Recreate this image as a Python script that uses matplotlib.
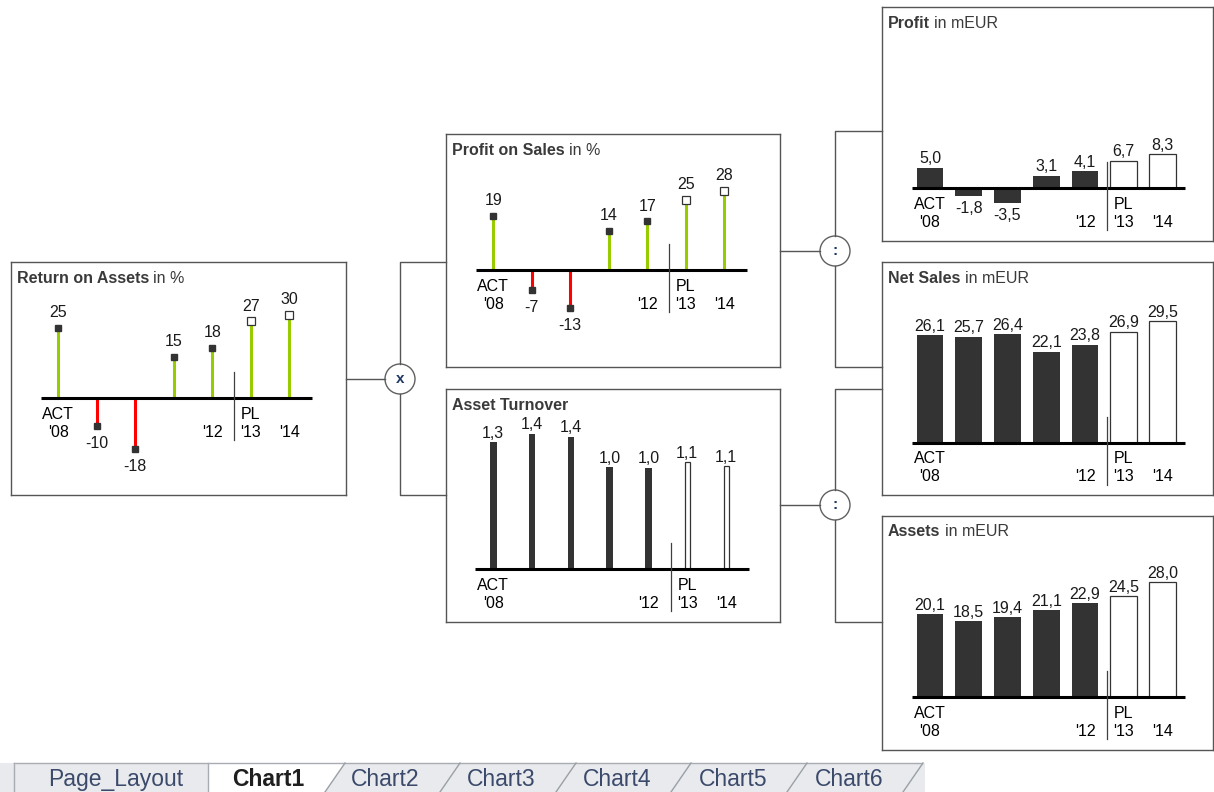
import numpy as np
import matplotlib
matplotlib.use("Agg")
import matplotlib.pyplot as plt
from matplotlib.patches import Circle, Polygon, Rectangle
from matplotlib import font_manager

plt.rcParams['font.family'] = ['Liberation Sans', 'DejaVu Sans']

# Daten
periods = ["'08", "'09", "'10", "'11", "'12", "'13", "'14"]
scenario = ["ACT"] * 5 + ["PL"] * 2
label_top = ["ACT", "", "", "", "", "PL", ""]
label_bottom = ["'08", "", "", "", "'12", "'13", "'14"]

profit = [5.0, -1.8, -3.5, 3.1, 4.1, 6.7, 8.3]
net_sales = [26.1, 25.7, 26.4, 22.1, 23.8, 26.9, 29.5]
assets = [20.1, 18.5, 19.4, 21.1, 22.9, 24.5, 28.0]
roa = [24.9, -9.7, -18.0, 14.7, 17.9, 27.3, 29.6]
pos = [19.2, -7.0, -13.3, 14.0, 17.2, 24.9, 28.1]
turnover = [1.30, 1.39, 1.36, 1.047, 1.04, 1.098, 1.054]

sheet_tabs = ["Page_Layout", "Chart1", "Chart2", "Chart3", "Chart4", "Chart5", "Chart6"]

# Farben
GREEN = "#99cc00"
RED = "#ff0000"
DARK = "#333333"
TITLE = "#3a3a3a"
LINE = "#555555"

W, H = 1214, 792
PX = 0.72  # Punkte pro Pixel bei dpi 100
FS = 11.5

fig = plt.figure(figsize=(W / 100, H / 100), dpi=100)
bg = fig.add_axes([0, 0, 1, 1])
bg.set_xlim(0, W)
bg.set_ylim(H, 0)
bg.axis("off")

x = np.arange(len(periods))
is_act = np.array([s == "ACT" for s in scenario])


def comma(v, nd=1):
    return f"{v:.{nd}f}".replace(".", ",")


def make_panel(box, base_y, x0, step, ppu, bold, rest):
    left, top, right, bottom = box
    ax = fig.add_axes([left / W, 1 - bottom / H, (right - left) / W, (bottom - top) / H])
    ax.set_facecolor("none")
    ax.set_xlim((left - x0) / step, (right - x0) / step)
    ax.set_ylim((base_y - bottom) / ppu, (base_y - top) / ppu)
    ax.set_xticks([])
    ax.set_yticks([])
    for sp in ax.spines.values():
        sp.set_color(LINE)
        sp.set_linewidth(1.0)
    t = ax.annotate(bold, xy=(0, 1), xycoords="axes fraction",
                    xytext=(6 * PX, -16 * PX), textcoords="offset points",
                    ha="left", va="center", fontsize=FS, fontweight="bold", color=TITLE)
    if rest:
        ax.annotate(rest, xy=(1, 0.5), xycoords=t, xytext=(3, 0), textcoords="offset points",
                    ha="left", va="center", fontsize=FS, color=TITLE)
    # Achse, Trennlinie ACT/PL, Beschriftung
    ax.plot([-0.46, 6.58], [0, 0], color="black", lw=2.2, solid_capstyle="butt", zorder=5)
    ax.plot([4.57, 4.57], [26 / ppu, -42 / ppu], color="#404040", lw=0.9, zorder=5)
    for i in x:
        ax.annotate(label_top[i], (i, 0), xytext=(0, -16 * PX), textcoords="offset points",
                    ha="center", va="center", fontsize=FS, color="black")
        ax.annotate(label_bottom[i], (i, 0), xytext=(0, -34 * PX), textcoords="offset points",
                    ha="center", va="center", fontsize=FS, color="black")
    return ax


def lollipops(ax, vals):
    v = np.array(vals)
    colors = [GREEN if val >= 0 else RED for val in v]
    ax.vlines(x, 0, v, colors=colors, lw=2.2, zorder=3)
    ax.plot(x[is_act], v[is_act], "s", ms=3.8, color=DARK, zorder=6)
    ax.plot(x[~is_act], v[~is_act], "s", ms=5.2, mfc="white", mec=DARK, mew=0.9, zorder=6)
    for xi, val in zip(x, v):
        if val >= 0:
            ax.annotate(f"{val:.0f}", (xi, val), xytext=(0, 5.5), textcoords="offset points",
                        ha="center", va="bottom", fontsize=FS, color="#1a1a1a")
        else:
            ax.annotate(f"{val:.0f}", (xi, val), xytext=(0, -7.5), textcoords="offset points",
                        ha="center", va="top", fontsize=FS, color="#1a1a1a")


def bars(ax, vals, width, pl_width):
    v = np.array(vals)
    ax.bar(x[is_act], v[is_act], width, color=DARK, zorder=3)
    ax.bar(x[~is_act], v[~is_act], pl_width, facecolor="white", edgecolor=DARK, lw=0.9, zorder=3)
    for xi, val in zip(x, v):
        if val >= 0:
            ax.annotate(comma(val), (xi, val), xytext=(0, 1), textcoords="offset points",
                        ha="center", va="bottom", fontsize=FS, color="#1a1a1a")
        else:
            ax.annotate(comma(val), (xi, val), xytext=(0, -4), textcoords="offset points",
                        ha="center", va="top", fontsize=FS, color="#1a1a1a")


# Panels
ax_roa = make_panel((11, 262, 346, 495), 398.3, 58.3, 38.5, 2.82, "Return on Assets", "in %")
lollipops(ax_roa, roa)

ax_pos = make_panel((446, 134, 780, 367), 270, 493.3, 38.5, 2.82, "Profit on Sales", "in %")
lollipops(ax_pos, pos)

ax_at = make_panel((446, 389, 780, 622), 569, 493.3, 38.8, 97.4, "Asset Turnover", "")
bars(ax_at, turnover, 0.17, 0.13)

ax_pr = make_panel((882, 7, 1213, 241), 188.3, 930, 38.75, 4.12, "Profit", "in mEUR")
bars(ax_pr, profit, 0.69, 0.69)

ax_ns = make_panel((882, 262, 1213, 495), 442.7, 930, 38.75, 4.12, "Net Sales", "in mEUR")
bars(ax_ns, net_sales, 0.69, 0.69)

ax_as = make_panel((882, 516, 1213, 750), 697.3, 930, 38.75, 4.12, "Assets", "in mEUR")
bars(ax_as, assets, 0.69, 0.69)

# Verbindungslinien
conn = dict(color=LINE, lw=1.0)
bg.plot([346, 385], [379, 379], **conn)
bg.plot([400, 400, 446], [364, 262, 262], **conn)
bg.plot([400, 400, 446], [394, 495, 495], **conn)
bg.plot([780, 820], [251, 251], **conn)
bg.plot([835, 835, 882], [236, 131, 131], **conn)
bg.plot([835, 835, 882], [266, 367, 367], **conn)
bg.plot([780, 820], [505, 505], **conn)
bg.plot([835, 835, 882], [490, 389, 389], **conn)
bg.plot([835, 835, 882], [520, 622, 622], **conn)

for cx, cy, sym in [(400, 379, "x"), (835, 251, ":"), (835, 505, ":")]:
    bg.add_patch(Circle((cx, cy), 15, facecolor="white", edgecolor="#606060", lw=1.0))
    bg.text(cx, cy, sym, ha="center", va="center", fontsize=11, fontweight="bold", color="#1f3864")

# Blattregister unten
names = {f.name for f in font_manager.fontManager.ttflist}
if "Liberation Sans Narrow" in names:
    tab_font, tab_size = "Liberation Sans Narrow", 19
else:
    tab_font, tab_size = "Liberation Sans", 16.5

bg.add_patch(Rectangle((0, 763), 925, 29, facecolor="#e8eaed", edgecolor="none"))
bg.add_patch(Polygon([(208, 792), (208, 763), (345, 763), (325, 792)],
                     facecolor="white", edgecolor="none"))
bg.plot([14, 922], [763, 763], color="#a9adb3", lw=1)
bg.plot([14, 14], [763, 792], color="#a9adb3", lw=1)
bg.plot([208, 208], [763, 792], color="#a9adb3", lw=1)
for xb in [325, 440, 556, 671, 787, 903]:
    bg.plot([xb, xb + 20], [792, 763], color="#9aa0a6", lw=1)

tab_x = [116, 268, 385, 501, 617, 733, 849]
for name, tx in zip(sheet_tabs, tab_x):
    active = name == "Chart1"
    bg.text(tx, 786, name, ha="center", va="baseline", family=[tab_font, "DejaVu Sans"],
            fontsize=tab_size, fontweight="bold" if active else "normal",
            color="#1f1f1f" if active else "#3b4a6b")

fig.savefig("out.png", dpi=100)
